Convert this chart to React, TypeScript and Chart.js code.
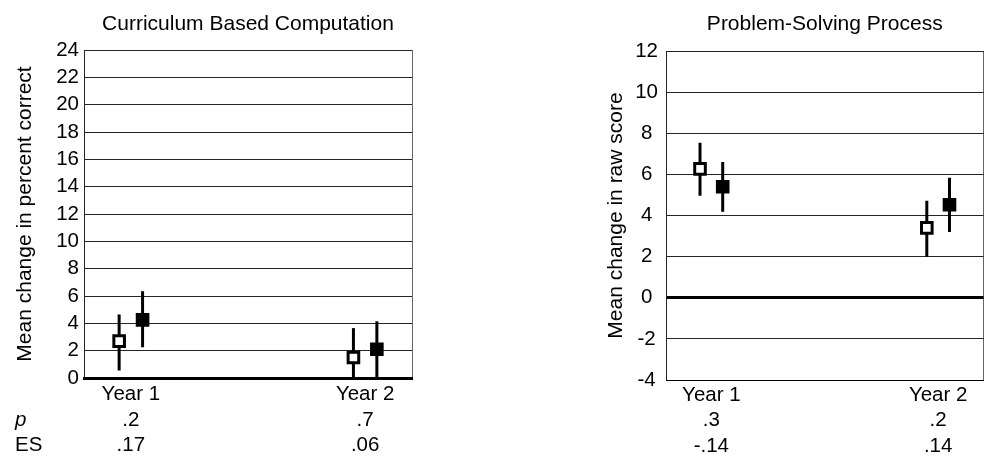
import React, { useEffect, useRef } from 'react';
import { Chart, registerables } from 'chart.js';

Chart.register(...registerables);

// ---------- data ----------
const categories = ['Year 1', 'Year 2'];
const categoryPositions = [1, 6];
const groupOffset = 0.25;
const rowLabels = ['p', 'ES'];

// Panel 1: Curriculum Based Computation
const cbcTitle = 'Curriculum Based Computation';
const cbcYLabel = 'Mean change in percent correct';
const cbcYMin = 0;
const cbcYMax = 24;
const cbcYStep = 2;
const cbcOpenMean = [2.7, 1.5];
const cbcOpenLow = [0.55, -0.6];
const cbcOpenHigh = [4.65, 3.65];
const cbcFilledMean = [4.25, 2.1];
const cbcFilledLow = [2.25, -0.1];
const cbcFilledHigh = [6.35, 4.15];
const cbcP = ['.2', '.7'];
const cbcES = ['.17', '.06'];

// Panel 2: Problem-Solving Process
const pspTitle = 'Problem-Solving Process';
const pspYLabel = 'Mean change in raw score';
const pspYMin = -4;
const pspYMax = 12;
const pspYStep = 2;
const pspOpenMean = [6.27, 3.4];
const pspOpenLow = [4.96, 2.0];
const pspOpenHigh = [7.54, 4.72];
const pspFilledMean = [5.4, 4.52];
const pspFilledLow = [4.18, 3.2];
const pspFilledHigh = [6.6, 5.84];
const pspP = ['.3', '.2'];
const pspES = ['-.14', '.14'];

// ---------- styling ----------
const FONT = '"Liberation Sans", Arial, Helvetica, sans-serif';
const TICK_SIZE = 20.5;
const TITLE_SIZE = 21;
const X_LINE_HEIGHT = 25.5;
const GRID_COLOR = 'rgba(0,0,0,0.85)';
const CANVAS_H = 456;

const errorBarPlugin = {
  id: 'errorBars',
  beforeDatasetsDraw(chart: any) {
    const { ctx, chartArea, scales } = chart;
    ctx.save();
    ctx.beginPath();
    ctx.rect(chartArea.left, chartArea.top, chartArea.right - chartArea.left, chartArea.bottom - chartArea.top);
    ctx.clip();
    ctx.strokeStyle = '#000';
    ctx.lineWidth = 3;
    chart.data.datasets.forEach((ds: any) => {
      ds.data.forEach((pt: any) => {
        const x = scales.x.getPixelForValue(pt.x);
        ctx.beginPath();
        ctx.moveTo(x, scales.y.getPixelForValue(pt.low));
        ctx.lineTo(x, scales.y.getPixelForValue(pt.high));
        ctx.stroke();
      });
    });
    ctx.restore();
  },
};

const rowLabelPlugin = {
  id: 'rowLabels',
  afterDraw(chart: any, _args: any, opts: any) {
    if (!opts || !opts.labels || !opts.labels.length) return;
    const { ctx } = chart;
    const xs = chart.scales.x;
    ctx.save();
    ctx.fillStyle = '#000';
    ctx.textAlign = 'left';
    ctx.textBaseline = 'middle';
    opts.labels.forEach((lab: string, i: number) => {
      ctx.font = `${i === 0 ? 'italic ' : ''}${TICK_SIZE}px ${FONT}`;
      ctx.fillText(lab, opts.x, xs.top + opts.padding + X_LINE_HEIGHT * (i + 1.5));
    });
    ctx.restore();
  },
};

interface PanelCfg {
  left: number;
  width: number;
  title: string;
  yLabel: string;
  yMin: number;
  yMax: number;
  yStep: number;
  openMean: number[];
  openLow: number[];
  openHigh: number[];
  filledMean: number[];
  filledLow: number[];
  filledHigh: number[];
  pVals: string[];
  esVals: string[];
  yAxisWidth: number;
  yTitlePad: number;
  yTickPad: number;
  yCrossAlign: 'near' | 'center' | 'far';
  titlePadTop: number;
  titlePadBottom: number;
  xAxisHeight: number;
  xTickPad: number;
  padRight: number;
  thickXBorder: boolean;
  showRowLabels: boolean;
}

function points(offset: number, mean: number[], low: number[], high: number[]) {
  return categoryPositions.map((c, i) => ({ x: c + offset, y: mean[i], low: low[i], high: high[i] }));
}

function buildConfig(cfg: PanelCfg): any {
  const tickLabels = categories.map((c, i) => [c, cfg.pVals[i], cfg.esVals[i]]);
  return {
    type: 'scatter',
    data: {
      datasets: [
        {
          label: 'open',
          data: points(-groupOffset, cfg.openMean, cfg.openLow, cfg.openHigh),
          pointStyle: 'rect',
          pointRadius: 7.5,
          pointBorderWidth: 3,
          pointBackgroundColor: '#fff',
          pointBorderColor: '#000',
        },
        {
          label: 'filled',
          data: points(groupOffset, cfg.filledMean, cfg.filledLow, cfg.filledHigh),
          pointStyle: 'rect',
          pointRadius: 7.5,
          pointBorderWidth: 3,
          pointBackgroundColor: '#000',
          pointBorderColor: '#000',
        },
      ],
    },
    options: {
      responsive: false,
      animation: false,
      devicePixelRatio: 1,
      layout: { padding: { left: 0, top: 0, right: cfg.padRight, bottom: 0 } },
      plugins: {
        legend: { display: false },
        tooltip: { enabled: false },
        title: {
          display: true,
          text: cfg.title,
          fullSize: false,
          color: '#000',
          font: { family: FONT, size: TITLE_SIZE, weight: 'normal', lineHeight: 1.2 },
          padding: { top: cfg.titlePadTop, bottom: cfg.titlePadBottom },
        },
        rowLabels: cfg.showRowLabels
          ? { labels: rowLabels, x: 15, padding: cfg.xTickPad }
          : { labels: [] },
      },
      scales: {
        x: {
          type: 'linear',
          min: 0,
          max: 7,
          afterBuildTicks: (scale: any) => {
            scale.ticks = categoryPositions.map((v) => ({ value: v }));
          },
          afterFit: (scale: any) => {
            scale.height = cfg.xAxisHeight;
          },
          grid: { display: false, drawTicks: false },
          border: { display: true, color: '#000', width: cfg.thickXBorder ? 3 : 1 },
          ticks: {
            autoSkip: false,
            maxRotation: 0,
            minRotation: 0,
            padding: cfg.xTickPad,
            color: '#000',
            font: { family: FONT, size: TICK_SIZE, lineHeight: X_LINE_HEIGHT / TICK_SIZE },
            callback: (_v: any, i: number) => tickLabels[i],
          },
        },
        y: {
          type: 'linear',
          position: 'left',
          min: cfg.yMin,
          max: cfg.yMax,
          afterFit: (scale: any) => {
            scale.width = cfg.yAxisWidth;
          },
          grid: {
            drawTicks: false,
            color: (ctx: any) => (ctx.tick && ctx.tick.value === 0 ? '#000' : GRID_COLOR),
            lineWidth: (ctx: any) => (ctx.tick && ctx.tick.value === 0 ? 3 : 1),
          },
          border: { display: true, color: GRID_COLOR, width: 1 },
          ticks: {
            stepSize: cfg.yStep,
            autoSkip: false,
            padding: cfg.yTickPad,
            crossAlign: cfg.yCrossAlign,
            color: '#000',
            font: { family: FONT, size: TICK_SIZE },
          },
          title: {
            display: true,
            text: cfg.yLabel,
            color: '#000',
            font: { family: FONT, size: TITLE_SIZE, lineHeight: 1.2 },
            padding: { top: cfg.yTitlePad, bottom: 0 },
          },
        },
        yRight: {
          type: 'linear',
          position: 'right',
          min: cfg.yMin,
          max: cfg.yMax,
          afterFit: (scale: any) => {
            scale.width = 0;
          },
          grid: { drawOnChartArea: false, drawTicks: false },
          border: { display: true, color: 'rgba(0,0,0,0.6)', width: 1 },
          ticks: { display: false },
        },
      },
    },
    plugins: [errorBarPlugin, rowLabelPlugin],
  };
}

const leftPanel: PanelCfg = {
  left: 0,
  width: 450,
  title: cbcTitle,
  yLabel: cbcYLabel,
  yMin: cbcYMin,
  yMax: cbcYMax,
  yStep: cbcYStep,
  openMean: cbcOpenMean,
  openLow: cbcOpenLow,
  openHigh: cbcOpenHigh,
  filledMean: cbcFilledMean,
  filledLow: cbcFilledLow,
  filledHigh: cbcFilledHigh,
  pVals: cbcP,
  esVals: cbcES,
  yAxisWidth: 84,
  yTitlePad: 12.4,
  yTickPad: 5,
  yCrossAlign: 'near',
  titlePadTop: 12,
  titlePadBottom: 12.8,
  xAxisHeight: 78,
  xTickPad: 4,
  padRight: 38,
  thickXBorder: true,
  showRowLabels: true,
};

const rightPanel: PanelCfg = {
  left: 540,
  width: 454,
  title: pspTitle,
  yLabel: pspYLabel,
  yMin: pspYMin,
  yMax: pspYMax,
  yStep: pspYStep,
  openMean: pspOpenMean,
  openLow: pspOpenLow,
  openHigh: pspOpenHigh,
  filledMean: pspFilledMean,
  filledLow: pspFilledLow,
  filledHigh: pspFilledHigh,
  pVals: pspP,
  esVals: pspES,
  yAxisWidth: 126,
  yTitlePad: 63.4,
  yTickPad: 8,
  yCrossAlign: 'center',
  titlePadTop: 12,
  titlePadBottom: 13.8,
  xAxisHeight: 76,
  xTickPad: 2.5,
  padRight: 0,
  thickXBorder: false,
  showRowLabels: false,
};

function Panel({ cfg }: { cfg: PanelCfg }) {
  const ref = useRef<HTMLCanvasElement>(null);
  useEffect(() => {
    if (!ref.current) return;
    const chart = new Chart(ref.current, buildConfig(cfg));
    return () => chart.destroy();
  }, [cfg]);
  return (
    <canvas
      ref={ref}
      width={cfg.width}
      height={CANVAS_H}
      style={{ position: 'absolute', left: cfg.left, top: 0, width: cfg.width, height: CANVAS_H }}
    />
  );
}

export default function App() {
  return (
    <div
      style={{
        position: 'absolute',
        left: 0,
        top: 0,
        width: 986,
        height: CANVAS_H,
        overflow: 'hidden',
        background: '#fff',
      }}
    >
      <Panel cfg={leftPanel} />
      <Panel cfg={rightPanel} />
    </div>
  );
}
